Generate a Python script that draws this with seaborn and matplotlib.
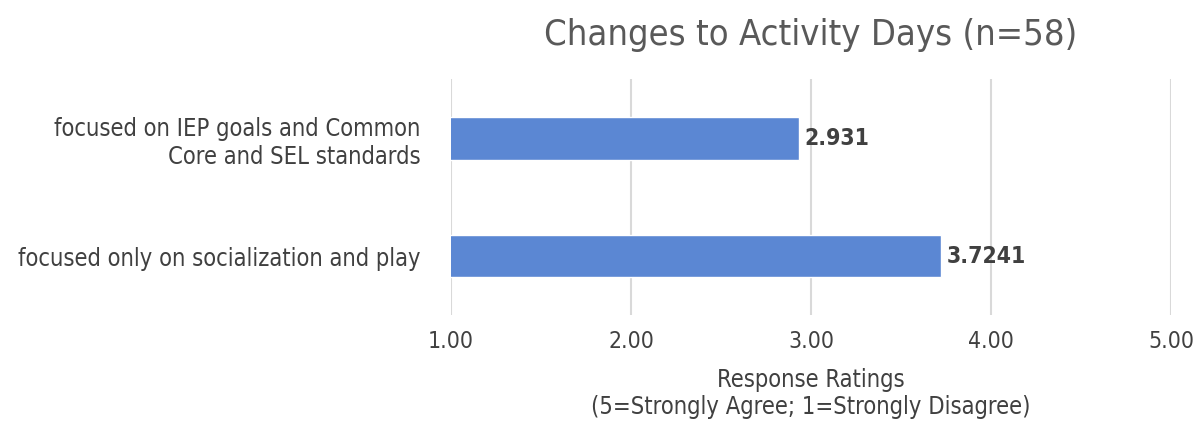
import matplotlib
matplotlib.use("Agg")
import matplotlib.pyplot as plt
import seaborn as sns
import pandas as pd

categories = ["focused on IEP goals and Common\nCore and SEL standards",
              "focused only on socialization and play"]
ratings = [2.931, 3.7241]
value_labels = ["2.931", "3.7241"]
xticks = [1, 2, 3, 4, 5]

bar_color = "#5b87d3"
text_color = "#404040"

sns.set_style("white")
plt.rcParams["font.family"] = ["DejaVu Sans"]
plt.rcParams["font.stretch"] = "condensed"

df = pd.DataFrame({"Category": categories, "Rating": ratings})

fig = plt.figure(figsize=(11.93, 4.25), dpi=100)
ax = fig.add_axes([0.378, 0.259, 0.6036, 0.554])

sns.barplot(data=df, x="Rating", y="Category", color=bar_color, width=0.36,
            saturation=1, ax=ax, zorder=3)
ax.set_xlim(1, 5)
ax.set_ylim(1.5, -0.5)
ax.set_xticks(xticks)
ax.set_xticklabels([f"{t:.2f}" for t in xticks])
ax.grid(axis="x", color="#d9d9d9", linewidth=1.5, zorder=0)
for s in ax.spines.values():
    s.set_visible(False)
ax.tick_params(axis="x", length=0, pad=11, labelsize=16.5, labelcolor=text_color)
ax.tick_params(axis="y", length=0, pad=22, labelsize=17, labelcolor=text_color)
ax.set_ylabel("")
ax.set_xlabel("Response Ratings\n(5=Strongly Agree; 1=Strongly Disagree)",
              fontsize=17, color=text_color, labelpad=11, linespacing=1.15)

for i, (v, lab) in enumerate(zip(ratings, value_labels)):
    ax.text(v + 0.03, i, lab, va="center", ha="left", fontsize=16.5,
            fontweight="bold", color=text_color)

ax.set_title("Changes to Activity Days (n=58)", fontsize=26, color="#595959", pad=25)

fig.savefig("out.png", dpi=100)
